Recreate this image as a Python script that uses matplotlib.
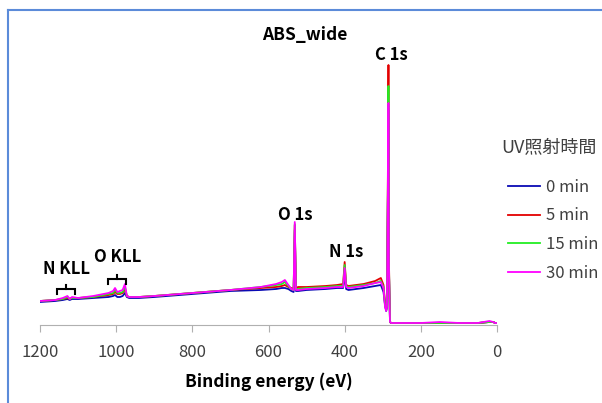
import matplotlib
matplotlib.use("Agg")
import matplotlib.pyplot as plt
from matplotlib.lines import Line2D

plt.rcParams['font.family'] = ['Noto Sans CJK JP', 'DejaVu Sans']

# binding energy (eV), shared by all four spectra
energy = [1200, 1160, 1140, 1128, 1122, 1116, 1100, 1060, 1020, 1008, 1003, 997,
          990, 983, 977, 972, 966, 940, 900, 800, 700, 620, 580, 565, 557, 548,
          540, 534, 531, 528, 522, 500, 450, 420, 404, 400, 396, 390, 350, 320,
          305, 298, 294, 291, 289, 286, 285, 284, 281, 278, 250, 200, 150, 100,
          50, 20, 10, 5, 0]

# intensity (a.u.)
int_0min = [23, 24, 25, 26, 25, 26, 26, 27, 28, 29, 30, 28, 28, 29, 32, 28, 27,
            27, 28, 31, 34, 35, 36, 37, 37, 36, 34, 33, 95, 34, 34, 35, 36, 37,
            37, 50, 36, 35, 37, 39, 40, 33, 20, 14, 18, 150, 215, 60, 3, 2, 2,
            2, 2, 2, 2, 3, 3, 2, 2]
int_5min = [24, 25, 26, 27, 26, 27, 27, 28, 30, 31, 33, 31, 31, 32, 36, 29, 28,
            28, 29, 32, 35, 37, 38, 39, 40, 38, 37, 36, 100, 37, 38, 38, 39, 40,
            41, 63, 40, 39, 41, 44, 47, 40, 22, 16, 20, 180, 260, 70, 3, 2, 2,
            2, 2, 2, 2, 3, 3, 2, 2]
int_15min = [24, 25, 26, 28, 26, 27, 27, 28, 31, 32, 35, 32, 32, 33, 38, 29, 28,
             28, 29, 32, 35, 38, 40, 41, 43, 39, 36, 35, 101, 36, 36, 37, 38, 39,
             39, 60, 39, 38, 40, 42, 44, 38, 20, 15, 19, 170, 239, 65, 3, 2, 2,
             2, 2, 2, 2, 3, 3, 2, 2]
int_30min = [24, 25, 27, 29, 26, 28, 27, 29, 32, 34, 37, 33, 34, 35, 41, 29, 28,
             28, 29, 32, 35, 38, 41, 43, 45, 40, 36, 35, 103, 35, 35, 36, 37, 38,
             38, 57, 38, 37, 39, 42, 43, 37, 18, 14, 18, 160, 222, 62, 3, 2, 2,
             2, 3, 2, 2, 4, 3, 2, 2]

series = [int_0min, int_5min, int_15min, int_30min]
labels = ['0 min', '5 min', '15 min', '30 min']
colors = ['#0A0AB4', '#E30000', '#22EE22', '#FF00FF']

# peak labels: (text, energy, intensity)
peak_labels = [('C 1s', 277, 261), ('O 1s', 530, 101), ('N 1s', 395, 64),
               ('O KLL', 997, 59), ('N KLL', 1130, 47)]
# Auger brackets: (left eV, right eV, height)
brackets = [(1155, 1108, 36), (1021, 974, 46)]

fig = plt.figure(figsize=(6.02, 4.03), dpi=100)
ax = fig.add_axes([40 / 602, 1 - 325 / 403, 457 / 602, 280 / 403])

for y, lab, c in zip(series, labels, colors):
    ax.plot(energy, y, color=c, lw=1.3, label=lab)

ax.set_xlim(1200, 0)
ax.set_ylim(0, 280)
ax.set_xticks([1200, 1000, 800, 600, 400, 200, 0])
ax.set_yticks([])
for s in ['top', 'right', 'left']:
    ax.spines[s].set_visible(False)
ax.spines['bottom'].set_color('#B0B0B0')
ax.tick_params(axis='x', colors='#B0B0B0', length=5, labelcolor='#404040',
               labelsize=12, pad=9)
ax.set_xlabel('Binding energy (eV)', fontsize=12.5, fontweight='bold', labelpad=8)
fig.text(305 / 602, 1 - 35 / 403, 'ABS_wide', ha='center', va='center',
         fontsize=12.5, fontweight='bold')

for txt, e, h in peak_labels:
    ax.text(e, h, txt, ha='center', va='bottom', fontsize=12, fontweight='bold')

for e1, e2, h in brackets:
    em = (e1 + e2) / 2
    ax.plot([e1, e1, e2, e2], [h - 5, h, h, h - 5], color='black', lw=1.5,
            solid_joinstyle='miter')
    ax.plot([em, em], [h, h + 4], color='black', lw=1.5)

# legend, title drawn separately so that it can stick out to the left
fig.text(549 / 602, 1 - 147 / 403, 'UV照射時間', ha='center', va='center',
         fontsize=13, color='#404040')
handles = [Line2D([], [], color=c, lw=1.3) for c in colors]
leg = fig.legend(handles, labels, loc='upper left',
                 bbox_to_anchor=(508 / 602, 1 - 179 / 403), frameon=False,
                 fontsize=12, handlelength=1.9, handletextpad=0.4,
                 labelspacing=0.69, borderpad=0, borderaxespad=0)
for t in leg.get_texts():
    t.set_color('#404040')

# outer border lines of the chart area
fig.add_artist(Line2D([7.5 / 602, 7.5 / 602], [0, 1 - 10 / 403],
                      color='#5B8BD9', lw=1.5))
fig.add_artist(Line2D([7.5 / 602, 1], [1 - 10 / 403, 1 - 10 / 403],
                      color='#5B8BD9', lw=1.5))

fig.savefig('out.png', dpi=100)
